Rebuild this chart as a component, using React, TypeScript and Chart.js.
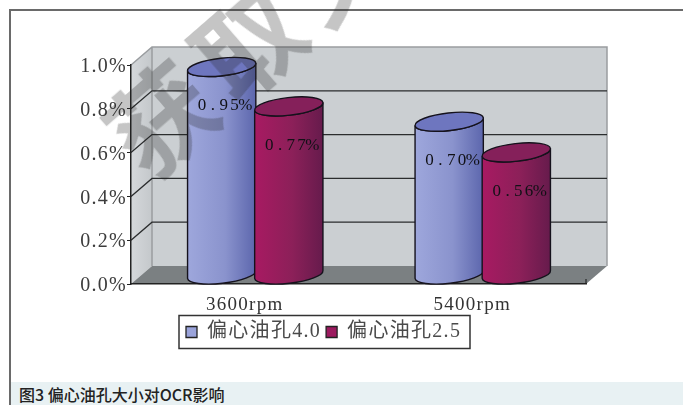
import React, { useEffect, useRef } from "react";
import { Chart, registerables } from "chart.js";

Chart.register(...registerables);

const categories = ["3600rpm", "5400rpm"];
const seriesNames = ["偏心油孔4.0", "偏心油孔2.5"];
const large = [0.95, 0.7];
const small = [0.77, 0.56];
const yTicks = [0, 0.2, 0.4, 0.6, 0.8, 1.0];
const captionText = "图3 偏心油孔大小对OCR影响";
const stampText = "获取文";

const SERIF = '"Liberation Serif", "Noto Sans CJK SC", serif';
const DEPTH_X = 21;
const DEPTH_Y = 18;

const palettes = [
  { key: "#9aa3da", left: "#9ea7dc", mid: "#8a93cd", right: "#5c66ad", top: "#6e76bf" },
  { key: "#9c1a5f", left: "#a81a62", mid: "#8c2059", right: "#661b4c", top: "#85205a" },
];

// Back wall, side wall and floor of the 3D box, placed from the value axis.
const boxPlugin = {
  id: "box",
  beforeDraw(chart: any) {
    const { ctx, chartArea: a, scales } = chart;
    const y = scales.y;
    const bx = a.left + DEPTH_X;
    const bxr = a.right + DEPTH_X;
    const t = a.top - DEPTH_Y;
    const b = a.bottom - DEPTH_Y;
    ctx.save();
    ctx.letterSpacing = "0px";
    // walls
    ctx.fillStyle = "#cbcfd2";
    ctx.fillRect(bx, t, bxr - bx, b - t);
    ctx.beginPath();
    ctx.moveTo(a.left, a.top);
    ctx.lineTo(bx, t);
    ctx.lineTo(bx, b);
    ctx.lineTo(a.left, a.bottom);
    ctx.closePath();
    const side = ctx.createLinearGradient(a.left, 0, bx, 0);
    side.addColorStop(0, "#d5d8db");
    side.addColorStop(1, "#c4c8cb");
    ctx.fillStyle = side;
    ctx.fill();
    // floor
    ctx.beginPath();
    ctx.moveTo(a.left, a.bottom);
    ctx.lineTo(a.right, a.bottom);
    ctx.lineTo(bxr, b);
    ctx.lineTo(bx, b);
    ctx.closePath();
    ctx.fillStyle = "#7b8082";
    ctx.fill();
    // wall edges
    ctx.strokeStyle = "#9a9da0";
    ctx.lineWidth = 1.5;
    ctx.beginPath();
    ctx.moveTo(a.left, a.top);
    ctx.lineTo(bx, t);
    ctx.lineTo(bxr, t);
    ctx.lineTo(bxr, b);
    ctx.moveTo(bx, t);
    ctx.lineTo(bx, b);
    ctx.stroke();
    // grid lines running along both walls
    ctx.strokeStyle = "#2b2d2e";
    ctx.lineWidth = 1.3;
    for (const v of yTicks) {
      if (v === 0 || v === 1) continue;
      const py = y.getPixelForValue(v);
      ctx.beginPath();
      ctx.moveTo(a.left, py);
      ctx.lineTo(bx, py - DEPTH_Y);
      ctx.lineTo(bxr, py - DEPTH_Y);
      ctx.stroke();
    }
    // corner tick at the end of the category axis
    ctx.beginPath();
    ctx.moveTo(a.right, a.bottom);
    ctx.lineTo(a.right, a.bottom - 5);
    ctx.stroke();
    ctx.restore();
  },
  beforeDatasetsDraw(chart: any) {
    chart.ctx.letterSpacing = "0px";
  },
};

// Cylinders and their value labels, built from the bar elements the controller laid out.
const cylinderPlugin = {
  id: "cylinders",
  afterDatasetsDraw(chart: any) {
    const { ctx } = chart;
    const tilt = (-6.5 * Math.PI) / 180;
    ctx.save();
    chart.data.datasets.forEach((ds: any, di: number) => {
      const pal = palettes[di];
      chart.getDatasetMeta(di).data.forEach((bar: any, i: number) => {
        const cx = bar.x + DEPTH_X / 2;
        const rx = bar.width / 2 + 0.8;
        const ry = 8.8;
        const topY = bar.y - DEPTH_Y / 2;
        const botY = bar.base - DEPTH_Y / 2;
        const dy = rx * Math.sin(tilt);
        ctx.beginPath();
        ctx.ellipse(cx, botY, rx, ry, tilt, Math.PI, 0, true);
        ctx.lineTo(cx + rx * Math.cos(tilt), topY + dy);
        ctx.ellipse(cx, topY, rx, ry, tilt, 0, Math.PI, false);
        ctx.closePath();
        const g = ctx.createLinearGradient(cx - rx, 0, cx + rx, 0);
        g.addColorStop(0, pal.left);
        g.addColorStop(0.55, pal.mid);
        g.addColorStop(1, pal.right);
        ctx.fillStyle = g;
        ctx.fill();
        ctx.strokeStyle = "#15121c";
        ctx.lineWidth = 1.4;
        ctx.stroke();
        ctx.beginPath();
        ctx.ellipse(cx, topY, rx, ry, tilt, 0, Math.PI * 2);
        ctx.fillStyle = pal.top;
        ctx.fill();
        ctx.stroke();

        // value label, one fixed-width cell per character
        const text = ds.data[i].toFixed(2) + "%";
        const cell = 10.8;
        ctx.font = `17px ${SERIF}`;
        ctx.fillStyle = "#111116";
        ctx.textAlign = "center";
        ctx.textBaseline = "middle";
        [...text].forEach((ch, k) => {
          ctx.fillText(ch, cx + 2 + (k - (text.length - 1) / 2) * cell, topY + 39);
        });
      });
    });
    ctx.restore();
  },
};

// Border round the legend, anchored on the legend's first entry.
const legendBoxPlugin = {
  id: "legendBox",
  afterDraw(chart: any) {
    const { ctx, legend } = chart;
    ctx.save();
    ctx.strokeStyle = "#333";
    ctx.lineWidth = 1.5;
    const first = legend.legendHitBoxes[0];
    const cy = first.top + first.height / 2;
    ctx.strokeRect(first.left - 7, cy - 16.5, 291, 33);
    ctx.restore();
  },
};

const spacingPlugin = {
  id: "spacing",
  beforeDraw(chart: any) {
    chart.ctx.letterSpacing = "1.3px";
  },
};

export default function App() {
  const ref = useRef<HTMLCanvasElement>(null);
  useEffect(() => {
    document.body.style.margin = "0";
    const chart = new Chart(ref.current as HTMLCanvasElement, {
      type: "bar",
      data: {
        labels: categories,
        datasets: [
          { label: seriesNames[0], data: large, backgroundColor: "transparent", borderColor: "transparent" },
          { label: seriesNames[1], data: small, backgroundColor: "transparent", borderColor: "transparent" },
        ],
      },
      plugins: [boxPlugin, cylinderPlugin, spacingPlugin, legendBoxPlugin],
      options: {
        responsive: false,
        animation: false,
        layout: { padding: { left: 43, right: 97, top: 65, bottom: 53 } },
        datasets: { bar: { categoryPercentage: 0.59, barPercentage: 1 } },
        scales: {
          x: {
            grid: { display: false },
            border: { color: "#222", width: 1.5 },
            ticks: { color: "#333", font: { family: SERIF, size: 19 }, padding: 2, maxRotation: 0 },
            afterFit: (s: any) => { s.height = 33; },
          },
          y: {
            min: 0,
            max: 1,
            afterBuildTicks: (s: any) => { s.ticks = yTicks.map((value) => ({ value })); },
            afterFit: (s: any) => { s.width = 88; },
            grid: { drawOnChartArea: false, drawTicks: true, tickLength: 4, color: "#222" },
            border: { color: "#222", width: 1.5 },
            ticks: {
              color: "#3c3c3c",
              padding: 0,
              labelOffset: 2,
              font: { family: SERIF, size: 20 },
              callback: (v: any) => Number(v).toFixed(1) + "%",
            },
          },
        },
        plugins: {
          tooltip: { enabled: false },
          title: { display: false },
          legend: {
            display: true,
            position: "bottom",
            labels: {
              color: "#4a4a4a",
              font: { family: SERIF, size: 20 },
              boxWidth: 11,
              boxHeight: 11,
              padding: 5,
              generateLabels: () =>
                seriesNames.map((text, i) => ({
                  text,
                  datasetIndex: i,
                  fillStyle: palettes[i].key,
                  strokeStyle: "#222",
                  lineWidth: 1.3,
                  fontColor: "#4a4a4a",
                })),
            },
          },
        },
      },
    } as any);
    return () => chart.destroy();
  }, []);

  return (
    <div style={{ position: "relative", width: 683, height: 405, overflow: "hidden", background: "#fff" }}>
      <div style={{ position: "absolute", left: 9, top: 9, right: 0, bottom: 0, borderTop: "2px solid #6a6a6a", borderLeft: "2px solid #6a6a6a" }} />
      <canvas ref={ref} width={683} height={405} style={{ position: "absolute", left: 0, top: 0 }} />
      <div
        style={{
          position: "absolute",
          left: 250,
          top: 35,
          transform: "translate(-50%,-50%) rotate(-41deg)",
          whiteSpace: "nowrap",
          font: '700 104px "Noto Sans CJK SC"',
          color: "rgba(30,30,30,0.26)",
          letterSpacing: "12px",
        }}
      >
        {stampText}
      </div>
      <div
        style={{
          position: "absolute",
          left: 11,
          right: 0,
          top: 382,
          height: 23,
          background: "#e8f1f3",
          font: '500 16px/24px "Noto Sans CJK SC"',
          color: "#222",
          paddingLeft: 8,
        }}
      >
        {captionText}
      </div>
    </div>
  );
}
